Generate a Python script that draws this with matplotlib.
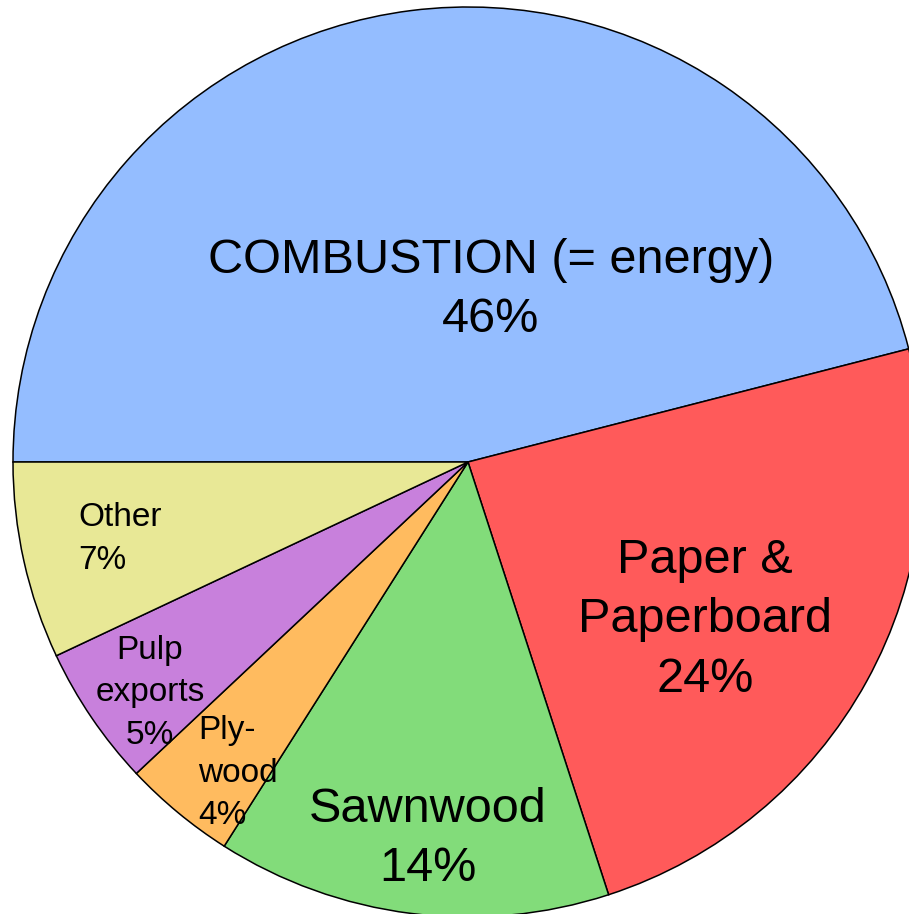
import matplotlib
matplotlib.use("Agg")
import matplotlib.pyplot as plt

categories = ["COMBUSTION (= energy)", "Paper &\nPaperboard", "Sawnwood", "Ply-\nwood", "Pulp\nexports", "Other"]
values = [46, 24, 14, 4, 5, 7]
colors = ["#94BDFF", "#FF5A5A", "#82DC7A", "#FFBB5F", "#C880DC", "#E8E896"]

plt.rcParams['font.family'] = ['Liberation Sans', 'DejaVu Sans']

W, H = 909, 914
fig = plt.figure(figsize=(W / 100, H / 100), dpi=100)
ax = fig.add_axes([0, 0, 1, 1])

cx, cy, R = 468, 462, 455

wedges, _ = ax.pie(values, colors=colors, startangle=180, counterclock=False,
                   radius=1.0, center=(0, 0),
                   wedgeprops=dict(edgecolor="black", linewidth=1.1))

ax.set_xlim(-cx / R, (W - cx) / R)
ax.set_ylim(-(H - cy) / R, cy / R)
ax.set_aspect('equal', adjustable='box')
ax.axis('off')


def P(px, py):
    return (px - cx) / R, (cy - py) / R


# label styles: (pixel position, fontsize, ha, linespacing)
label_style = [
    ((491, 290), 35, 'center', 1.42),
    ((705, 620), 35, 'center', 1.42),
    ((428, 839), 35, 'center', 1.42),
    ((198, 773), 24, 'left', 1.5),
    ((150, 693), 24, 'center', 1.5),
    ((78, 539), 24, 'left', 1.5),
]

for name, v, (pos, fs, ha, ls) in zip(categories, values, label_style):
    x, y = P(*pos)
    ax.text(x, y, f"{name}\n{v}%", fontsize=fs, ha=ha, va='center',
            multialignment=ha, linespacing=ls, color='black')

fig.savefig("out.png", dpi=100, facecolor='white')
